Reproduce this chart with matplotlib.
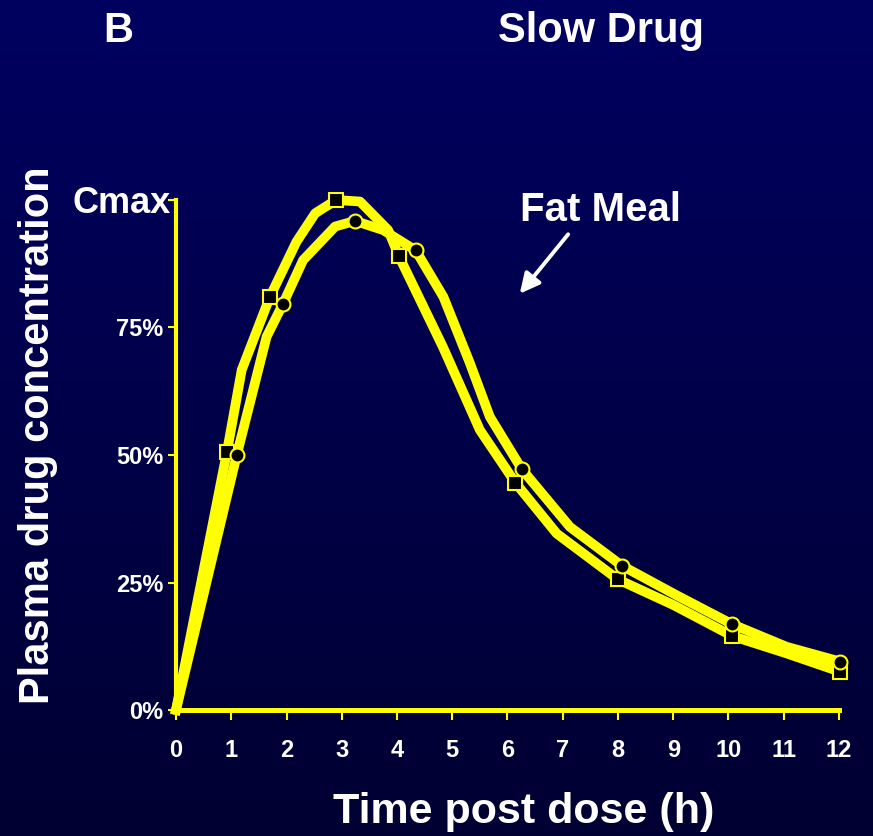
import numpy as np
import matplotlib.pyplot as plt

plt.rcParams['font.family'] = ['Liberation Sans', 'DejaVu Sans']
plt.rcParams['font.weight'] = 'bold'

# square series (line vertices, markers at sq_marks)
sq_t = [0, 0.92, 1.19, 1.70, 2.18, 2.52, 2.90, 3.33, 3.84, 4.03, 4.83, 5.50, 6.14, 6.89, 8.0, 9.0, 10.07, 11.05, 12.02]
sq_c = [0, 50.5, 66.7, 81.0, 91.8, 97.4, 100, 99.7, 94.1, 89.1, 71.2, 54.9, 44.6, 34.6, 25.6, 20.6, 14.5, 11.1, 7.5]
sq_marks = [1, 3, 6, 9, 12, 14, 16, 18]

# circle series
ci_t = [0, 1.10, 1.64, 1.94, 2.30, 2.88, 3.24, 3.75, 4.34, 4.84, 5.32, 5.68, 6.26, 7.13, 8.07, 9.06, 10.07, 11.05, 12.02]
ci_c = [0, 50.0, 73.2, 79.7, 88.2, 94.8, 95.9, 94.1, 90.1, 81.0, 68.0, 57.5, 47.2, 35.9, 28.3, 22.5, 16.8, 12.4, 9.5]
ci_marks = [1, 3, 6, 8, 12, 14, 16, 18]

xticks = list(range(0, 13))
yticks = [0, 25, 50, 75, 100]
yticklabels = ['0%', '25%', '50%', '75%', '']

yellow = '#FFFF00'

fig = plt.figure(figsize=(8.73, 8.36), dpi=100)

# background gradient
bg = fig.add_axes([0, 0, 1, 1], zorder=-10)
grad = np.linspace(0, 1, 256).reshape(-1, 1)
top = np.array([0, 0, 96]) / 255.0
bot = np.array([0, 0, 50]) / 255.0
img = top[None, None, :] * (1 - grad[:, :, None]) + bot[None, None, :] * grad[:, :, None]
bg.imshow(img, aspect='auto', extent=[0, 1, 0, 1])
bg.axis('off')

ax = fig.add_axes([176/873, 1-710/836, (839-176)/873, (710-200)/836])
ax.patch.set_visible(False)

ax.plot(sq_t, sq_c, '-', color=yellow, lw=7, solid_joinstyle='round', clip_on=False, zorder=3)
ax.plot(ci_t, ci_c, '-', color=yellow, lw=7, solid_joinstyle='round', clip_on=False, zorder=3)
ax.plot(sq_t, sq_c, 's', markevery=sq_marks, ms=10, mfc='black', mec=yellow, mew=1.5, clip_on=False, zorder=4)
ax.plot(ci_t, ci_c, 'o', markevery=ci_marks, ms=10, mfc='black', mec=yellow, mew=1.5, clip_on=False, zorder=4)

ax.set_xlim(0, 12)
ax.set_ylim(0, 100)

for s in ['top', 'right']:
    ax.spines[s].set_visible(False)
ax.spines['left'].set_color(yellow)
ax.spines['left'].set_linewidth(3)
ax.spines['bottom'].set_color(yellow)
ax.spines['bottom'].set_linewidth(3.6)

ax.set_xticks(xticks)
ax.set_yticks(yticks)
ax.set_yticklabels(yticklabels)
ax.tick_params(axis='x', colors=yellow, length=7, width=1.5, pad=14, labelsize=17, labelcolor='white')
ax.tick_params(axis='y', colors=yellow, length=6, width=1.5, pad=3, labelsize=17, labelcolor='white')
for lab in ax.get_xticklabels() + ax.get_yticklabels():
    lab.set_fontweight('bold')

ax.text(-0.1, 99.3, 'Cmax', ha='right', va='center', fontsize=26, color='white', fontweight='bold')

# Fat Meal annotation
ax.text(7.69, 98.0, 'Fat Meal', ha='center', va='center', fontsize=29, color='white', fontweight='bold')
ax.annotate('', xy=(6.19, 81.2), xytext=(7.13, 93.7),
            arrowprops=dict(arrowstyle='-|>', color='white', lw=2.8, mutation_scale=30))

fig.text(601/873, 1-31/836, 'Slow Drug', ha='center', va='center', fontsize=30, color='white', fontweight='bold')
fig.text(118/873, 1-31/836, 'B', ha='center', va='center', fontsize=30, color='white', fontweight='bold')
fig.text(38/873, 1-435/836, 'Plasma drug concentration', rotation=90, ha='center', va='center',
         fontsize=30, color='white', fontweight='bold')
fig.text(524/873, 1-812/836, 'Time post dose (h)', ha='center', va='center', fontsize=31,
         color='white', fontweight='bold')

plt.savefig('out.png', dpi=100, facecolor='#000050')
